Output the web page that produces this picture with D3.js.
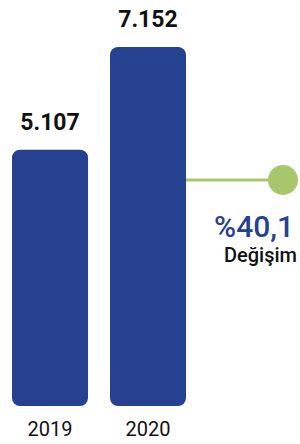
<!DOCTYPE html>
<html lang="tr">
<head>
<meta charset="utf-8">
<title>Değişim</title>
<style>
  body { margin: 0; background: #fff; }
  text { font-family: Roboto, "Noto Sans", sans-serif; }
</style>
</head>
<body>
<svg id="chart" width="300" height="444"></svg>
<script src="https://d3js.org/d3.v7.min.js"></script>
<script>
  var years = ["2019", "2020"];
  var values = [5107, 7152];
  var valueLabels = ["5.107", "7.152"];
  var changeLabel = "%40,1";
  var changeText = "Değişim";

  var data = years.map((y, i) => ({label: y, count: values[i], text: valueLabels[i]}));

  var panel = d3.select("#chart");

  var xScale = d3.scaleBand()
    .domain(years)
    .range([12, 186])
    .paddingInner(0.224)
    .paddingOuter(0);

  var yScale = d3.scaleLinear()
    .domain([0, d3.max(values)])
    .range([406, 47]);

  var bw = xScale.bandwidth();

  panel.selectAll("rect.bar")
    .data(data)
    .join("rect")
      .attr("class", "bar")
      .attr("x", d => xScale(d.label))
      .attr("y", d => yScale(d.count))
      .attr("width", bw)
      .attr("height", d => yScale(0) - yScale(d.count))
      .attr("rx", 8)
      .attr("fill", "#26418f");

  // value labels above bars
  panel.selectAll("text.val")
    .data(data)
    .join("text")
      .attr("class", "val")
      .attr("x", d => xScale(d.label) + bw / 2)
      .attr("y", d => yScale(d.count) - 20)
      .attr("text-anchor", "middle")
      .attr("font-size", 23)
      .attr("font-weight", "bold")
      .attr("fill", "#111")
      .text(d => d.text);

  // year labels
  panel.selectAll("text.year")
    .data(data)
    .join("text")
      .attr("class", "year")
      .attr("x", d => xScale(d.label) + bw / 2)
      .attr("y", 436)
      .attr("text-anchor", "middle")
      .attr("font-size", 20)
      .attr("fill", "#111")
      .text(d => d.label);

  // change marker
  var lineY = 180;
  var lastX = xScale(years[1]) + bw;
  panel.append("line")
    .attr("x1", lastX)
    .attr("x2", 283)
    .attr("y1", lineY)
    .attr("y2", lineY)
    .attr("stroke", "#a8c66c")
    .attr("stroke-width", 3);

  panel.append("circle")
    .attr("cx", 283)
    .attr("cy", lineY)
    .attr("r", 15)
    .attr("fill", "#a8c66c");

  panel.append("text")
    .attr("x", 294)
    .attr("y", 237)
    .attr("text-anchor", "end")
    .attr("font-size", 30)
    .attr("font-weight", 500)
    .attr("fill", "#26418f")
    .text(changeLabel);

  panel.append("text")
    .attr("x", 297)
    .attr("y", 262)
    .attr("text-anchor", "end")
    .attr("font-size", 20)
    .attr("font-weight", 500)
    .attr("fill", "#111")
    .text(changeText);
</script>
</body>
</html>
